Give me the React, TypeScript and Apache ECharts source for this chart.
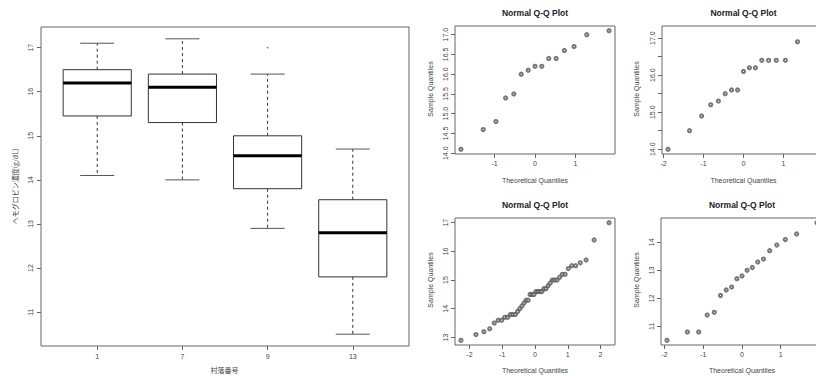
import React, { useEffect, useRef } from "react";
import * as echarts from "echarts";

// ---- data ----
const villageLabels = ["1", "7", "9", "13"];

// sorted hemoglobin samples per village (g/dL)
const village1 = [14.1, 14.6, 14.8, 15.4, 15.5, 16.0, 16.1, 16.2, 16.2, 16.4, 16.4, 16.6, 16.7, 17.0, 17.1];
const village7 = [14.0, 14.5, 14.9, 15.2, 15.3, 15.5, 15.6, 15.6, 16.1, 16.2, 16.2, 16.4, 16.4, 16.4, 16.4, 16.9, 17.2];
const village9 = [
  12.9, 13.1, 13.2, 13.3, 13.5, 13.6, 13.6, 13.7, 13.7, 13.8, 13.8, 13.8, 13.9, 14.0, 14.1,
  14.2, 14.3, 14.3, 14.5, 14.5, 14.5, 14.6, 14.6, 14.6, 14.6, 14.7, 14.7, 14.8, 14.9, 15.0,
  15.0, 15.0, 15.1, 15.2, 15.2, 15.4, 15.5, 15.5, 15.6, 15.7, 16.4, 17.0,
];
const village13 = [10.5, 10.8, 10.8, 11.4, 11.5, 12.1, 12.3, 12.4, 12.7, 12.8, 13.0, 13.1, 13.3, 13.4, 13.7, 13.9, 14.1, 14.3, 14.7];

// theoretical normal quantiles (x positions of the Q-Q points)
const theo15 = [-1.834, -1.282, -0.967, -0.728, -0.524, -0.341, -0.168, 0, 0.168, 0.341, 0.524, 0.728, 0.967, 1.282, 1.834];
const theo17 = [-1.89, -1.352, -1.049, -0.821, -0.629, -0.458, -0.299, -0.148, 0, 0.148, 0.299, 0.458, 0.629, 0.821, 1.049, 1.352, 1.89];
const theo42 = [
  -2.26, -1.803, -1.559, -1.383, -1.242, -1.122, -1.016, -0.921, -0.833, -0.752, -0.674,
  -0.601, -0.531, -0.464, -0.399, -0.334, -0.272, -0.21, -0.15, -0.09, -0.03,
  0.03, 0.09, 0.15, 0.21, 0.272, 0.334, 0.399, 0.464, 0.531, 0.601,
  0.674, 0.752, 0.833, 0.921, 1.016, 1.122, 1.242, 1.383, 1.559, 1.803, 2.26,
];
const theo19 = [-1.938, -1.412, -1.119, -0.9, -0.716, -0.555, -0.407, -0.267, -0.132, 0, 0.132, 0.267, 0.407, 0.555, 0.716, 0.9, 1.119, 1.412, 1.938];

// tick labels
const boxYTicks = [11, 12, 13, 14, 15, 16, 17];
const qq1YTicks = [14, 14.5, 15, 15.5, 16, 16.5, 17];
const qq2YTicks = [14, 14.5, 15, 15.5, 16, 16.5, 17];
const qq2YLabels = [14, 15, 16, 17];
const qq3YTicks = [13, 14, 15, 16, 17];
const qq4YTicks = [11, 12, 13, 14];
const qq1XTicks = [-1, 0, 1];
const qq3XTicks = [-2, -1, 0, 1, 2];
const qqRightXTicks = [-2, -1, 0, 1];

const TEXT = "#444";
const FONT = "'Liberation Sans', Arial, sans-serif";

function fivenum(x: number[]) {
  const s = [...x].sort((a, b) => a - b);
  const n = s.length;
  const n4 = Math.floor((n + 3) / 2) / 2;
  const d = [1, n4, (n + 1) / 2, n + 1 - n4, n];
  return d.map((v) => 0.5 * (s[Math.floor(v) - 1] + s[Math.ceil(v) - 1]));
}

function boxStats(x: number[]) {
  const f = fivenum(x);
  const iqr = f[3] - f[1];
  const lo = f[1] - 1.5 * iqr;
  const hi = f[3] + 1.5 * iqr;
  const inside = x.filter((v) => v >= lo && v <= hi);
  const out = x.filter((v) => v < lo || v > hi);
  return {
    stats: [Math.min(...inside), f[1], f[2], f[3], Math.max(...inside)],
    out,
  };
}

function ext(vals: number[]) {
  const mn = Math.min(...vals);
  const mx = Math.max(...vals);
  const r = mx - mn;
  return [mn - 0.04 * r, mx + 0.04 * r];
}

export default function App() {
  const ref = useRef<HTMLDivElement>(null);
  useEffect(() => {
    document.body.style.margin = "0";
    document.body.style.overflow = "hidden";
    document.documentElement.style.overflow = "hidden";
    const chart = echarts.init(ref.current!, null, { renderer: "svg" });

    const groups = [village1, village7, village9, village13];
    const boxData = groups.map((g, i) => {
      const b = boxStats(g);
      return [i + 1, ...b.stats];
    });
    const outData: number[][] = [];
    groups.forEach((g, i) => boxStats(g).out.forEach((v) => outData.push([i + 1, v])));

    const allVals = ([] as number[]).concat(...groups);
    const [bymin, bymax] = ext(allVals);

    const qqSets = [
      { x: theo15, y: village1, yTicks: qq1YTicks, yLabels: qq1YTicks, xTicks: qq1XTicks, dec: 1 },
      { x: theo17, y: village7, yTicks: qq2YTicks, yLabels: qq2YLabels, xTicks: qqRightXTicks, dec: 1 },
      { x: theo42, y: village9, yTicks: qq3YTicks, yLabels: qq3YTicks, xTicks: qq3XTicks, dec: 0 },
      { x: theo19, y: village13, yTicks: qq4YTicks, yLabels: qq4YTicks, xTicks: qqRightXTicks, dec: 0 },
    ];

    const grids: any[] = [
      { left: 41, top: 27, width: 368, height: 319 },
      { left: 455, top: 26, width: 160, height: 128 },
      { left: 662, top: 26, width: 163, height: 128 },
      { left: 455, top: 218, width: 160, height: 127 },
      { left: 661, top: 218, width: 162, height: 127 },
    ].map((g) => ({
      ...g,
      show: true,
      borderColor: "#666",
      borderWidth: 1,
      backgroundColor: "transparent",
      containLabel: false,
      outerBoundsMode: "none",
    }));

    const labelStyle = { color: TEXT, fontSize: 7, fontFamily: FONT };
    const tickStyle = { show: true, length: 4, lineStyle: { color: "#666", width: 1 } };
    const noLine = { show: false, onZero: false };

    const xAxes: any[] = [
      {
        gridIndex: 0,
        type: "value",
        min: 0.5 - 0.04 * 4,
        max: 4.5 + 0.04 * 4,
        splitLine: { show: false },
        axisLine: noLine,
        axisTick: { ...tickStyle, customValues: [1, 2, 3, 4] },
        axisLabel: {
          ...labelStyle,
          margin: 7,
          customValues: [1, 2, 3, 4],
          formatter: (v: number) => villageLabels[Math.round(v) - 1] ?? "",
        },
      },
    ];
    const yAxes: any[] = [
      {
        gridIndex: 0,
        type: "value",
        min: bymin,
        max: bymax,
        splitLine: { show: false },
        axisLine: noLine,
        axisTick: { ...tickStyle, customValues: boxYTicks },
        axisLabel: { ...labelStyle, rotate: 90, margin: 7, customValues: boxYTicks, formatter: (v: number) => String(v) },
      },
    ];

    qqSets.forEach((q, i) => {
      const [xmin, xmax] = ext(q.x);
      const [ymin, ymax] = ext(q.y);
      xAxes.push({
        gridIndex: i + 1,
        type: "value",
        min: xmin,
        max: xmax,
        splitLine: { show: false },
        axisLine: noLine,
        axisTick: { ...tickStyle, customValues: q.xTicks },
        axisLabel: { ...labelStyle, margin: 6, customValues: q.xTicks, formatter: (v: number) => String(v) },
      });
      yAxes.push({
        gridIndex: i + 1,
        type: "value",
        min: ymin,
        max: ymax,
        splitLine: { show: false },
        axisLine: noLine,
        axisTick: { ...tickStyle, customValues: q.yTicks },
        axisLabel: {
          ...labelStyle,
          rotate: 90,
          margin: 6,
          customValues: q.yLabels,
          formatter: (v: number) => v.toFixed(q.dec),
        },
      });
    });

    const series: any[] = [
      {
        type: "custom",
        xAxisIndex: 0,
        yAxisIndex: 0,
        data: boxData,
        encode: { x: 0, y: [1, 2, 3, 4, 5] },
        renderItem: (params: any, api: any) => {
          const x = api.value(0);
          const lo = api.coord([x, api.value(1)]);
          const q1 = api.coord([x, api.value(2)]);
          const md = api.coord([x, api.value(3)]);
          const q3 = api.coord([x, api.value(4)]);
          const hi = api.coord([x, api.value(5)]);
          const hw = api.size([0.8, 0])[0] / 2;
          const cw = hw / 2;
          const cx = md[0];
          const dash = { stroke: "#333", lineWidth: 1, lineDash: [3, 3] };
          const solid = { stroke: "#555", lineWidth: 1 };
          return {
            type: "group",
            children: [
              { type: "line", shape: { x1: cx, y1: q3[1], x2: cx, y2: hi[1] }, style: dash },
              { type: "line", shape: { x1: cx, y1: q1[1], x2: cx, y2: lo[1] }, style: dash },
              { type: "line", shape: { x1: cx - cw, y1: hi[1], x2: cx + cw, y2: hi[1] }, style: solid },
              { type: "line", shape: { x1: cx - cw, y1: lo[1], x2: cx + cw, y2: lo[1] }, style: solid },
              {
                type: "rect",
                shape: { x: cx - hw, y: q3[1], width: 2 * hw, height: q1[1] - q3[1] },
                style: { fill: "#fff", stroke: "#333", lineWidth: 1 },
              },
              { type: "line", shape: { x1: cx - hw, y1: md[1], x2: cx + hw, y2: md[1] }, style: { stroke: "#000", lineWidth: 3 } },
            ],
          };
        },
      },
      {
        type: "scatter",
        xAxisIndex: 0,
        yAxisIndex: 0,
        data: outData,
        symbol: "circle",
        symbolSize: 1.5,
        itemStyle: { color: "#444" },
      },
    ];

    qqSets.forEach((q, i) => {
      series.push({
        type: "scatter",
        xAxisIndex: i + 1,
        yAxisIndex: i + 1,
        data: q.x.map((v, k) => [v, q.y[k]]),
        symbol: "emptyCircle",
        symbolSize: 3.2,
        itemStyle: { color: "#555", borderWidth: 0.6 },
      });
    });

    const txt = (x: number, y: number, text: string, opts: any = {}) => ({
      type: "text",
      x,
      y,
      rotation: opts.rot ?? 0,
      style: {
        text,
        fill: opts.color ?? TEXT,
        fontSize: opts.size ?? 7,
        fontWeight: opts.bold ? "bold" : "normal",
        fontFamily: opts.family ?? FONT,
        align: "center",
        verticalAlign: "middle",
      },
    });

    const graphic: any[] = [
      txt(15, 186.5, "ヘモグロビン濃度(g/dL)", { rot: Math.PI / 2, family: "'Noto Sans CJK JP', sans-serif" }),
      txt(224.5, 370, "村落番号", { family: "'Noto Sans CJK JP', sans-serif" }),
      txt(535, 13, "Normal Q-Q Plot", { bold: true, size: 8.5, color: "#222" }),
      txt(743.5, 13, "Normal Q-Q Plot", { bold: true, size: 8.5, color: "#222" }),
      txt(535, 205, "Normal Q-Q Plot", { bold: true, size: 8.5, color: "#222" }),
      txt(742, 205, "Normal Q-Q Plot", { bold: true, size: 8.5, color: "#222" }),
      txt(535, 180, "Theoretical Quantiles"),
      txt(743.5, 180, "Theoretical Quantiles"),
      txt(535, 370, "Theoretical Quantiles"),
      txt(742, 370, "Theoretical Quantiles"),
      txt(430, 89, "Sample Quantiles", { rot: Math.PI / 2 }),
      txt(636, 89, "Sample Quantiles", { rot: Math.PI / 2 }),
      txt(430, 280, "Sample Quantiles", { rot: Math.PI / 2 }),
      txt(636, 280, "Sample Quantiles", { rot: Math.PI / 2 }),
    ];

    chart.setOption({
      animation: false,
      backgroundColor: "#fff",
      grid: grids,
      xAxis: xAxes,
      yAxis: yAxes,
      series,
      graphic,
    });
    return () => chart.dispose();
  }, []);
  return <div ref={ref} style={{ width: 816, height: 376, position: "absolute", left: 0, top: 0 }} />;
}
